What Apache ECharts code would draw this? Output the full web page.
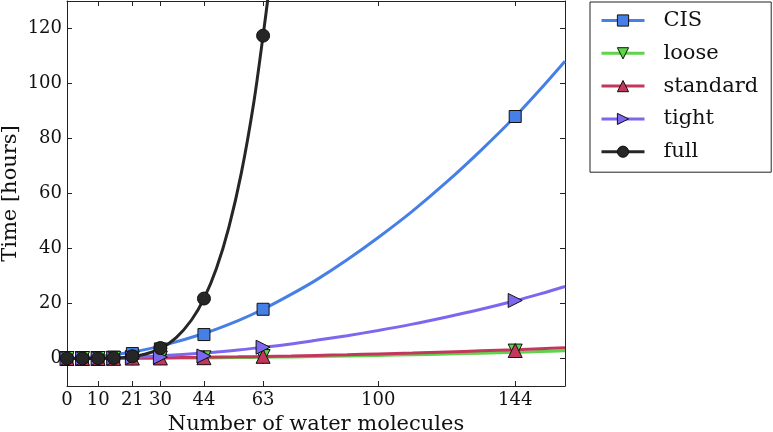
<!DOCTYPE html>
<html>
<head>
<meta charset="utf-8">
<script src="https://cdn.jsdelivr.net/npm/echarts@6/dist/echarts.min.js"></script>
<style>
html, body { margin: 0; padding: 0; background: #fff; }
#chart { width: 773px; height: 432px; }
</style>
</head>
<body>
<div id="chart"></div>
<script>
// ---- data ----
const seriesNames = ['CIS', 'loose', 'standard', 'tight', 'full'];
const xTickValues = [0, 10, 21, 30, 44, 63, 100, 144];
const yTickValues = [0, 20, 40, 60, 80, 100, 120];

// measured points (markers)
const measuredX = [0, 5, 10, 15, 21, 30, 44, 63, 144];
const cisTimes = [0.1, 0.1, 0.2, 0.5, 1.8, 3.5, 8.7, 17.9, 88];
const looseTimes = [0, 0, 0, 0.05, 0.1, 0.15, 0.25, 0.7, 2.7];
const standardTimes = [0, 0, 0, 0.05, 0.15, 0.2, 0.3, 0.8, 2.9];
const tightTimes = [0, 0, 0.05, 0.1, 0.3, 0.5, 0.9, 4.1, 21.1];
const fullX = [0, 5, 10, 15, 21, 30, 44, 63];
const fullTimes = [0.05, 0.05, 0.1, 0.2, 0.8, 3.8, 21.8, 117.4];

// fitted curves
const fitX = [0, 10, 21, 30, 44, 55, 63, 72, 80, 90, 100, 111, 122, 133, 144, 152, 160];
const cisFit = [0, 0.7, 2.4, 4.5, 9.1, 13.8, 17.9, 23.3, 28.5, 35.9, 44.0, 53.6, 64.2, 75.7, 88, 97.8, 108.1];
const looseFit = [0, 0.015, 0.056, 0.11, 0.22, 0.35, 0.45, 0.58, 0.72, 0.9, 1.11, 1.36, 1.64, 1.94, 2.27, 2.53, 2.8];
const standardFit = [0, 0.05, 0.14, 0.23, 0.42, 0.6, 0.75, 0.94, 1.13, 1.38, 1.67, 2.0, 2.38, 2.78, 3.21, 3.55, 3.9];
const tightFit = [0, 0.12, 0.49, 0.97, 2.0, 3.1, 4.1, 5.3, 6.6, 8.3, 10.2, 12.5, 15.1, 17.9, 21, 23.5, 26.2];
const fullFitX = [0, 10, 15, 21, 25, 30, 35, 40, 44, 48, 52, 56, 60, 63, 65];
const fullFit = [0, 0.02, 0.14, 0.68, 1.55, 3.6, 7.5, 14, 21.8, 32.7, 47.7, 67.4, 93, 117.4, 135];

// ---- styling ----
const FONT = 'DejaVu Serif';
const colors = {
  CIS: '#4680e6',
  loose: '#5fd34a',
  standard: '#c2375b',
  tight: '#7b68ee',
  full: '#262626'
};
const symbols = {
  CIS: { symbol: 'rect', rotate: 0, size: 12 },
  loose: { symbol: 'triangle', rotate: 180, size: 14 },
  standard: { symbol: 'triangle', rotate: 0, size: 14 },
  tight: { symbol: 'triangle', rotate: -90, size: 14 },
  full: { symbol: 'circle', rotate: 0, size: 13 }
};

function pairs(xs, ys) { return xs.map((x, i) => [x, ys[i]]); }

const fitData = {
  CIS: pairs(fitX, cisFit),
  loose: pairs(fitX, looseFit),
  standard: pairs(fitX, standardFit),
  tight: pairs(fitX, tightFit),
  full: pairs(fullFitX, fullFit)
};
const pointData = {
  CIS: pairs(measuredX, cisTimes),
  loose: pairs(measuredX, looseTimes),
  standard: pairs(measuredX, standardTimes),
  tight: pairs(measuredX, tightTimes),
  full: pairs(fullX, fullTimes)
};

const series = [];
seriesNames.forEach(name => {
  const s = symbols[name];
  series.push({
    name: name,
    type: 'line',
    data: fitData[name],
    smooth: 0.3,
    showSymbol: false,
    symbol: s.symbol,
    symbolRotate: s.rotate,
    symbolSize: s.size,
    lineStyle: { color: colors[name], width: 3 },
    itemStyle: { color: colors[name], borderColor: '#111', borderWidth: 1 },
    emphasis: { disabled: true },
    animation: false,
    z: 2
  });
});
seriesNames.forEach(name => {
  const s = symbols[name];
  series.push({
    name: name,
    type: 'scatter',
    data: pointData[name],
    symbol: s.symbol,
    symbolRotate: s.rotate,
    symbolSize: s.size,
    itemStyle: { color: colors[name], borderColor: '#111', borderWidth: 1, opacity: 1 },
    emphasis: { disabled: true },
    animation: false,
    z: 3
  });
});

const axisLineStyle = { show: true, onZero: false, lineStyle: { color: '#222', width: 1 } };
function ticks(values) {
  return { show: true, inside: true, length: 5, customValues: values, lineStyle: { color: '#222', width: 1 } };
}

const option = {
  backgroundColor: '#fff',
  animation: false,
  grid: { left: 67, right: 208, top: 1, bottom: 46, containLabel: false, outerBoundsMode: 'none' },
  legend: {
    data: seriesNames,
    orient: 'vertical',
    left: 590,
    top: 2,
    padding: [8, 13, 10, 10],
    itemWidth: 43,
    itemHeight: 14,
    itemGap: 11.8,
    borderColor: '#222',
    borderWidth: 1,
    borderRadius: 0,
    backgroundColor: '#fff',
    selectedMode: false,
    itemStyle: { borderColor: '#111', borderWidth: 1 },
    lineStyle: { width: 3 },
    textStyle: { fontFamily: FONT, fontSize: 21, color: '#111', padding: [0, 0, 0, 14], lineHeight: 21 }
  },
  xAxis: [
    {
      type: 'value', min: 0, max: 160, position: 'bottom',
      name: 'Number of water molecules', nameLocation: 'middle', nameGap: 28, nameMoveOverlap: false,
      nameTextStyle: { fontFamily: FONT, fontSize: 21, color: '#111' },
      axisLine: axisLineStyle,
      axisTick: ticks(xTickValues),
      axisLabel: { customValues: xTickValues, fontFamily: FONT, fontSize: 18, color: '#111', margin: 5 },
      splitLine: { show: false }
    },
    {
      type: 'value', min: 0, max: 160, position: 'top',
      axisLine: axisLineStyle,
      axisTick: ticks(xTickValues),
      axisLabel: { show: false, customValues: xTickValues },
      splitLine: { show: false }
    }
  ],
  yAxis: [
    {
      type: 'value', min: -10, max: 130, position: 'left',
      name: 'Time [hours]', nameLocation: 'middle', nameGap: 46, nameMoveOverlap: false,
      nameTextStyle: { fontFamily: FONT, fontSize: 21, color: '#111' },
      axisLine: axisLineStyle,
      axisTick: ticks(yTickValues),
      axisLabel: { customValues: yTickValues, fontFamily: FONT, fontSize: 18, color: '#111', margin: 5 },
      splitLine: { show: false }
    },
    {
      type: 'value', min: -10, max: 130, position: 'right',
      axisLine: axisLineStyle,
      axisTick: ticks(yTickValues),
      axisLabel: { show: false, customValues: yTickValues },
      splitLine: { show: false }
    }
  ],
  series: series
};

const chart = echarts.init(document.getElementById('chart'), null, { renderer: 'canvas' });
chart.setOption(option);
</script>
</body>
</html>
